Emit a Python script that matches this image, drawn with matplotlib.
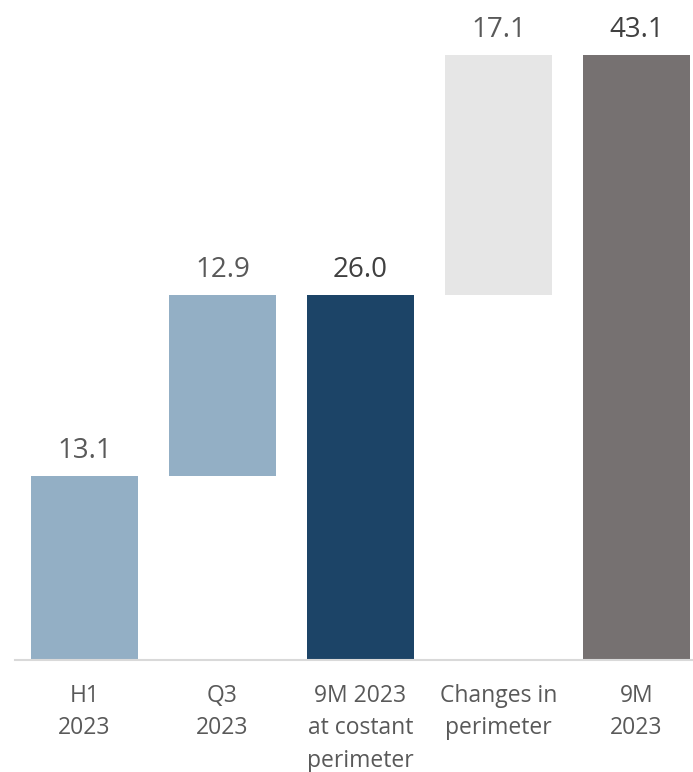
import matplotlib.pyplot as plt

categories = ['H1\n2023', 'Q3\n2023', '9M 2023\nat costant\nperimeter', 'Changes in\nperimeter', '9M\n2023']
values = [13.1, 12.9, 26.0, 17.1, 43.1]
is_total = [False, False, True, False, True]
colors = ['#93afc5', '#93afc5', '#1c4467', '#e6e6e6', '#767171']

# waterfall bottoms: steps stack on the running sum, totals start at zero
bottoms = []
running = 0.0
for v, t in zip(values, is_total):
    if t:
        bottoms.append(0.0)
        running = v
    else:
        bottoms.append(running)
        running += v

plt.rcParams['font.family'] = ['Open Sans', 'DejaVu Sans']

fig = plt.figure(figsize=(6.93, 7.72), dpi=100)
ax = fig.add_axes([15 / 693, 112 / 772, 678 / 693, 660 / 772])

x = list(range(len(values)))
ax.bar(x, values, bottom=bottoms, width=0.775, color=colors, zorder=2)

for xi, v, b, t in zip(x, values, bottoms, is_total):
    ax.annotate(f'{v:.1f}', (xi, b + v), xytext=(0, 8), textcoords='offset points',
                ha='center', va='bottom', fontsize=20,
                color='#404040' if t else '#595959',
                fontweight='medium' if t else 'normal')

ax.set_xlim(-0.504, 4.41)
ax.set_ylim(0, 47.0)
ax.set_xticks(x)
ax.set_xticklabels(categories, fontsize=16.5, color='#595959', linespacing=1.48)
ax.tick_params(axis='x', length=0, pad=17)
ax.set_yticks([])
for s in ['top', 'right', 'left']:
    ax.spines[s].set_visible(False)
ax.spines['bottom'].set_color('#d9d9d9')
ax.spines['bottom'].set_linewidth(1.5)
ax.spines['bottom'].set_zorder(3)

fig.savefig('out.png', dpi=100)
